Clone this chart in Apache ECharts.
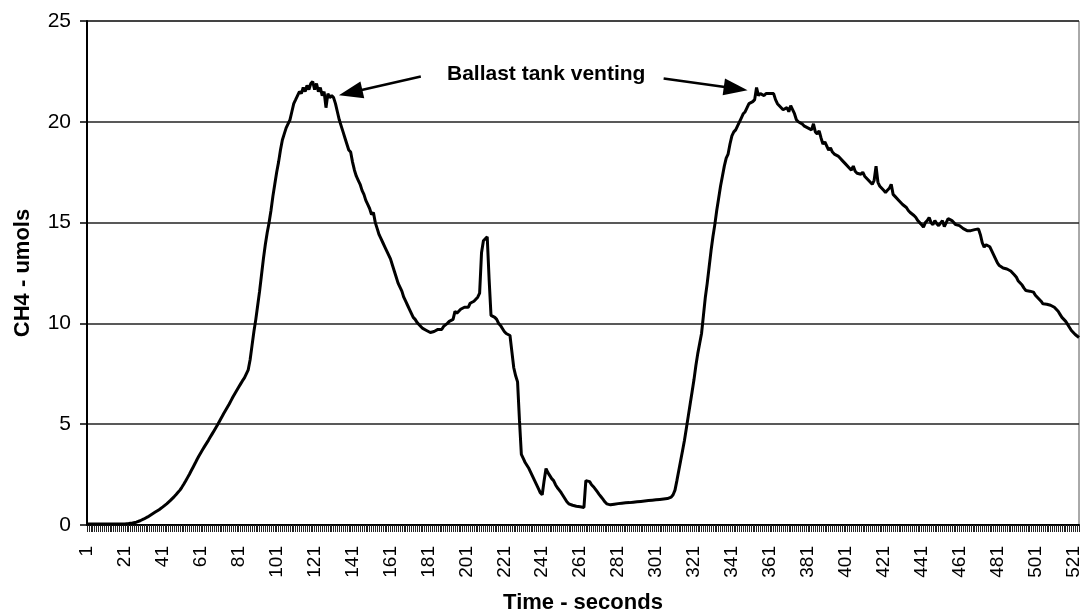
<!DOCTYPE html>
<html>
<head>
<meta charset="utf-8">
<script src="https://cdn.jsdelivr.net/npm/echarts@6/dist/echarts.min.js"></script>
<style>
html,body{margin:0;padding:0;background:#fff;}
#chart{width:1081px;height:614px;}
</style>
</head>
<body>
<div id="chart"></div>
<script>
// CH4 (umols) read per second, t = 1 .. 524
const ch4Values = [
0.05,0.05,0.05,0.05,0.05,0.05,0.05,0.05,0.05,0.05,
0.05,0.05,0.05,0.05,0.05,0.05,0.05,0.05,0.05,0.05,
0.05,0.06,0.07,0.08,0.1,0.12,0.14,0.17,0.21,0.26,
0.3,0.35,0.4,0.46,0.52,0.58,0.64,0.7,0.76,0.83,
0.9,0.97,1.05,1.13,1.22,1.31,1.41,1.51,1.62,1.73,
1.87,2.02,2.18,2.35,2.52,2.7,2.88,3.06,3.25,3.42,
3.58,3.74,3.9,4.05,4.2,4.36,4.52,4.68,4.84,5.0,
5.17,5.34,5.52,5.68,5.84,6.0,6.18,6.36,6.52,6.68,
6.84,7.0,7.16,7.3,7.5,7.7,8.2,8.9,9.6,10.2,
10.9,11.6,12.4,13.2,13.9,14.5,15.0,15.6,16.3,16.9,
17.5,18.0,18.6,19.1,19.4,19.7,19.9,20.1,20.5,20.9,
21.1,21.3,21.5,21.4,21.7,21.5,21.8,21.6,21.9,22.0,
21.6,21.9,21.5,21.7,21.3,21.5,20.7,21.4,21.2,21.3,
21.2,20.9,20.5,20.1,19.8,19.5,19.2,18.9,18.6,18.5,
18.0,17.6,17.3,17.1,16.9,16.6,16.4,16.1,15.9,15.7,
15.4,15.5,15.0,14.7,14.4,14.2,14.0,13.8,13.6,13.4,
13.2,12.9,12.6,12.3,12.0,11.8,11.6,11.3,11.1,10.9,
10.7,10.5,10.3,10.2,10.05,9.95,9.85,9.75,9.7,9.65,
9.6,9.55,9.5,9.6,9.55,9.7,9.75,9.7,9.85,9.9,
10.0,10.1,10.05,10.2,10.6,10.5,10.6,10.7,10.65,10.8,
10.85,10.8,11.0,11.0,11.1,11.2,11.3,11.5,13.5,14.1,
14.2,14.3,12.2,10.4,10.35,10.3,10.2,10.0,9.9,9.75,
9.6,9.5,9.45,9.4,8.6,7.8,7.4,7.1,5.2,3.5,
3.3,3.1,2.95,2.8,2.6,2.4,2.2,2.0,1.8,1.6,
1.5,2.2,2.8,2.6,2.45,2.3,2.2,2.0,1.85,1.73,
1.6,1.45,1.3,1.15,1.05,1.0,0.98,0.95,0.93,0.92,
0.9,0.88,0.87,2.2,2.25,2.15,2.0,1.9,1.78,1.65,
1.52,1.4,1.28,1.15,1.05,0.98,1.0,1.02,1.03,1.05,
1.06,1.07,1.08,1.09,1.1,1.1,1.11,1.12,1.13,1.14,
1.15,1.16,1.17,1.18,1.19,1.2,1.21,1.22,1.23,1.24,
1.25,1.26,1.27,1.28,1.29,1.3,1.31,1.32,1.38,1.5,
1.73,2.2,2.7,3.2,3.7,4.2,4.8,5.4,6.0,6.6,
7.2,7.9,8.5,9.0,9.5,10.4,11.3,12.0,12.8,13.6,
14.3,14.9,15.6,16.2,16.8,17.3,17.8,18.2,18.4,18.9,
19.3,19.5,19.6,19.8,20.0,20.2,20.4,20.5,20.7,20.9,
20.9,21.0,21.1,21.7,21.3,21.4,21.35,21.3,21.4,21.35,
21.4,21.45,21.4,21.1,20.9,20.8,20.7,20.6,20.6,20.7,
20.5,20.8,20.6,20.4,20.1,20.0,20.05,19.9,19.8,19.75,
19.7,19.75,19.6,19.9,19.5,19.4,19.55,19.2,18.9,19.0,
18.8,18.6,18.7,18.5,18.4,18.45,18.3,18.2,18.1,18.05,
17.9,17.85,17.7,17.6,17.8,17.55,17.45,17.5,17.4,17.5,
17.3,17.2,17.1,17.0,16.9,17.1,17.8,17.0,16.8,16.7,
16.6,16.5,16.6,16.7,16.9,16.4,16.3,16.25,16.1,16.0,
15.9,15.85,15.75,15.6,15.5,15.45,15.35,15.25,15.1,15.0,
14.9,14.77,15.0,15.1,15.25,15.0,14.9,15.1,14.95,14.85,
14.9,15.1,14.8,15.0,15.2,15.26,15.1,15.0,14.9,14.95,
14.85,14.9,14.7,14.75,14.6,14.52,14.6,14.55,14.65,14.7,
14.69,14.4,14.0,13.78,13.9,13.85,13.8,13.6,13.4,13.2,
13.0,12.87,12.9,12.75,12.8,12.7,12.7,12.6,12.5,12.4,
12.29,12.1,12.0,11.9,11.75,11.63,11.7,11.6,11.65,11.55,
11.4,11.3,11.2,11.1,10.97,11.05,10.95,11.0,10.9,10.97,
10.8,10.7,10.6,10.45,10.3,10.23,10.1,9.95,9.8,9.65,
9.55,9.45,9.38,9.3
];
// time categories (seconds): 1 .. number of readings
const timeCategories = ch4Values.map((v, i) => String(i + 1));
// y axis ticks
const yTicks = [0, 5, 10, 15, 20, 25];
// annotation
const annotationText = 'Ballast tank venting';
// arrows: [tail index, tail value] -> [head index, head value]
const arrowLeft = [[176, 22.25], [139, 21.45]];
const arrowRight = [[304, 22.15], [342, 21.65]];

const FONT = "Arial, 'Liberation Sans', sans-serif";
const chart = echarts.init(document.getElementById('chart'), null, {renderer: 'canvas'});
chart.setOption({
  animation: false,
  backgroundColor: '#ffffff',
  grid: {left: 87, right: 2, top: 21, bottom: 89, containLabel: false, outerBoundsMode: 'none',
         show: true, borderColor: '#555', borderWidth: 1, backgroundColor: 'transparent'},
  xAxis: {
    type: 'category',
    data: timeCategories,
    boundaryGap: false,
    name: 'Time - seconds',
    nameLocation: 'middle',
    nameGap: 67,
    nameTextStyle: {fontFamily: FONT, fontSize: 22, fontWeight: 'bold', color: '#000'},
    axisLine: {show: true, lineStyle: {color: '#000', width: 2}},
    axisTick: {show: true, interval: 0, length: 7, lineStyle: {color: '#222', width: 1}},
    axisLabel: {interval: 19, rotate: 90, margin: 21, fontFamily: FONT, fontSize: 19, color: '#000'},
    splitLine: {show: false}
  },
  yAxis: {
    type: 'value',
    min: yTicks[0],
    max: yTicks[yTicks.length - 1],
    interval: 5,
    name: 'CH4 - umols',
    nameLocation: 'middle',
    nameGap: 53,
    nameTextStyle: {fontFamily: FONT, fontSize: 22, fontWeight: 'bold', color: '#000'},
    axisLine: {show: true, lineStyle: {color: '#000', width: 2}},
    axisTick: {show: true, length: 7, lineStyle: {color: '#000', width: 1.5}},
    axisLabel: {margin: 16, fontFamily: FONT, fontSize: 21, color: '#000'},
    splitLine: {show: true, lineStyle: {color: '#222', width: 1.5}}
  },
  graphic: [{
    type: 'text',
    left: 447, top: 64,
    style: {text: annotationText, font: 'bold 21px ' + FONT, fill: '#000'}
  }],
  series: [{
    type: 'line',
    data: ch4Values,
    showSymbol: false,
    symbol: 'none',
    lineStyle: {color: '#000', width: 3},
    itemStyle: {color: '#000'},
    markLine: {
      silent: true,
      symbol: ['none', 'triangle'],
      symbolSize: [17, 24],
      label: {show: false},
      lineStyle: {color: '#000', width: 2.5, type: 'solid'},
      data: [
        [{coord: arrowLeft[0]}, {coord: arrowLeft[1]}],
        [{coord: arrowRight[0]}, {coord: arrowRight[1]}]
      ]
    }
  }]
});
</script>
</body>
</html>
